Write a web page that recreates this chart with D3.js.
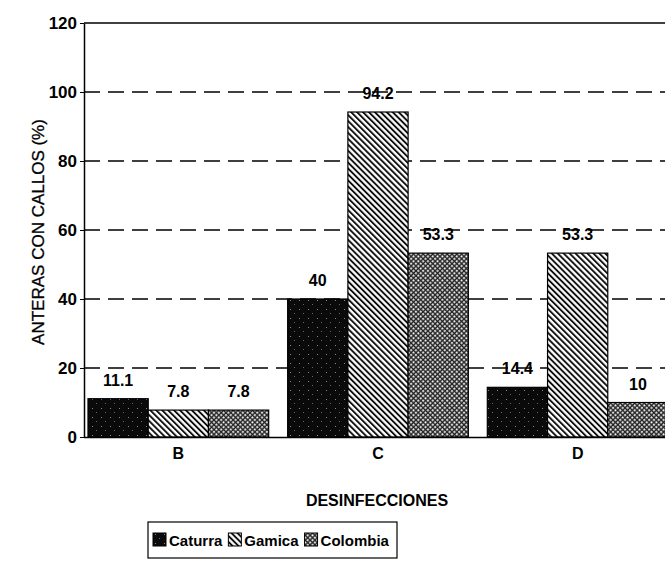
<!DOCTYPE html>
<html lang="es">
<head>
<meta charset="UTF-8">
<title>Anteras con callos</title>
<script src="https://d3js.org/d3.v7.min.js"></script>
<style>
  body { margin: 0; background: #fff; }
  text { font-family: "Liberation Sans", Arial, sans-serif; fill: #000; }
</style>
</head>
<body>
<script>
// data
const groups = ["B", "C", "D"];
const series = ["Caturra", "Gamica", "Colombia"];
const caturra = [11.1, 40, 14.4];
const gamica = [7.8, 94.2, 53.3];
const colombia = [7.8, 53.3, 10];
const yTicks = [0, 20, 40, 60, 80, 100, 120];

const values = [caturra, gamica, colombia];

const W = 665, H = 576;
const mLeft = 84, mTop = 23, mBottom = 437, mRight = 672;

const svg = d3.select("body").append("svg")
    .attr("width", W)
    .attr("height", H);

// fill patterns
const defs = svg.append("defs");

const p1 = defs.append("pattern").attr("id", "pat0")
    .attr("patternUnits", "userSpaceOnUse").attr("width", 9).attr("height", 9);
p1.append("rect").attr("width", 9).attr("height", 9).attr("fill", "#0a0a0a");
p1.append("rect").attr("x", 2).attr("y", 3).attr("width", 1).attr("height", 1).attr("fill", "#888");
p1.append("rect").attr("x", 6).attr("y", 7).attr("width", 1).attr("height", 1).attr("fill", "#666");

const p2 = defs.append("pattern").attr("id", "pat1")
    .attr("patternUnits", "userSpaceOnUse").attr("width", 4.2).attr("height", 4.2)
    .attr("patternTransform", "rotate(-45)");
p2.append("rect").attr("width", 4.2).attr("height", 4.2).attr("fill", "#fff");
p2.append("line").attr("x1", 1).attr("x2", 1).attr("y1", 0).attr("y2", 4.2)
    .attr("stroke", "#000").attr("stroke-width", 1.8);

const p3 = defs.append("pattern").attr("id", "pat2")
    .attr("patternUnits", "userSpaceOnUse").attr("width", 3.4).attr("height", 3.4)
    .attr("patternTransform", "rotate(45)");
p3.append("rect").attr("width", 3.4).attr("height", 3.4).attr("fill", "#222");
p3.append("rect").attr("x", 0.2).attr("y", 0.2).attr("width", 1.9).attr("height", 1.9).attr("fill", "#fff");

// scales
const x0 = d3.scaleBand().domain(groups).range([mLeft, mRight])
    .paddingInner(0.095).paddingOuter(0.02);
const x1 = d3.scaleBand().domain(series).range([0, x0.bandwidth()]);
const y = d3.scaleLinear().domain([0, 120]).range([mBottom, mTop]);

// dashed gridlines
svg.append("g").selectAll("line")
    .data(yTicks.filter(t => t > 0 && t < 120))
    .enter().append("line")
    .attr("x1", mLeft).attr("x2", W)
    .attr("y1", d => y(d)).attr("y2", d => y(d))
    .attr("stroke", "#000").attr("stroke-width", 1.3)
    .attr("stroke-dasharray", "16,8");

// bars
const gBars = svg.append("g");
series.forEach((s, si) => {
    gBars.selectAll(".bar" + si)
        .data(groups.map((g, gi) => ({ g: g, v: values[si][gi] })))
        .enter().append("rect")
        .attr("x", d => x0(d.g) + x1(s))
        .attr("y", d => y(d.v))
        .attr("width", x1.bandwidth())
        .attr("height", d => y(0) - y(d.v))
        .attr("fill", "url(#pat" + si + ")")
        .attr("stroke", "#000").attr("stroke-width", 1.2);
});

// value labels
series.forEach((s, si) => {
    svg.append("g").selectAll("text")
        .data(groups.map((g, gi) => ({ g: g, v: values[si][gi] })))
        .enter().append("text")
        .attr("x", d => x0(d.g) + x1(s) + x1.bandwidth() / 2)
        .attr("y", d => y(d.v) - 13)
        .attr("text-anchor", "middle")
        .attr("font-size", 16).attr("font-weight", "bold")
        .text(d => d.v);
});

// frame: top border
svg.append("line").attr("x1", mLeft).attr("x2", W)
    .attr("y1", mTop).attr("y2", mTop)
    .attr("stroke", "#000").attr("stroke-width", 1.5);

// y axis
const yAxis = svg.append("g")
    .attr("transform", "translate(" + mLeft + ",0)")
    .call(d3.axisLeft(y).tickValues(yTicks).tickSize(4).tickPadding(3).tickSizeOuter(0));
yAxis.select(".domain").attr("stroke-width", 1.5);
yAxis.selectAll("text").attr("font-size", 17).attr("font-weight", "bold")
    .attr("font-family", "Liberation Sans, Arial, sans-serif");

// x axis
const xAxis = svg.append("g")
    .attr("transform", "translate(0," + mBottom + ")")
    .call(d3.axisBottom(x0).tickSize(0).tickPadding(11).tickSizeOuter(0));
xAxis.select(".domain").attr("d", "M" + mLeft + ",0.5H" + W).attr("stroke-width", 1.5);
xAxis.selectAll("text").attr("font-size", 16).attr("font-weight", "bold")
    .attr("font-family", "Liberation Sans, Arial, sans-serif");

// axis titles
svg.append("text")
    .attr("transform", "translate(44,232) rotate(-90)")
    .attr("text-anchor", "middle")
    .attr("font-size", 17)
    .attr("stroke", "#000").attr("stroke-width", 0.3)
    .text("ANTERAS CON CALLOS (%)");

svg.append("text")
    .attr("x", 377).attr("y", 506)
    .attr("text-anchor", "middle")
    .attr("font-size", 16).attr("font-weight", "bold")
    .text("DESINFECCIONES");

// legend
const leg = svg.append("g");
leg.append("rect").attr("x", 148).attr("y", 522).attr("width", 249).attr("height", 36)
    .attr("fill", "#fff").attr("stroke", "#000").attr("stroke-width", 1.2);
let lx = 153;
series.forEach((s, si) => {
    leg.append("rect").attr("x", lx).attr("y", 533).attr("width", 13).attr("height", 13)
        .attr("fill", "url(#pat" + si + ")").attr("stroke", "#000").attr("stroke-width", 1);
    const t = leg.append("text").attr("x", lx + 16).attr("y", 546)
        .attr("font-size", 15).attr("font-weight", "bold").text(s);
    lx += 16 + t.node().getComputedTextLength() + 6;
});
</script>
</body>
</html>
